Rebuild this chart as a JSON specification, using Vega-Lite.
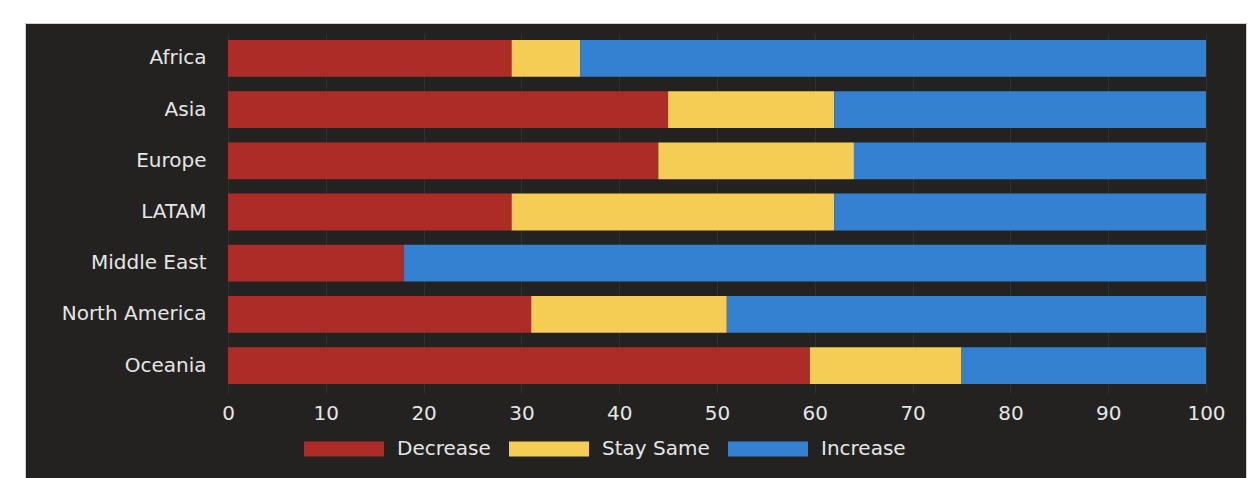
{
  "$schema": "https://vega.github.io/schema/vega-lite/v6.json",
  "width": 1221,
  "height": 455,
  "autosize": {"type": "none"},
  "padding": {"left": 25, "top": 23, "right": 2, "bottom": 0},
  "background": "#ffffff",
  "config": {
    "view": {"fill": "#232221", "stroke": "#cfcfcf", "strokeWidth": 1},
    "font": "DejaVu Sans"
  },
  "data": {
    "values": [
      {"region": "Africa", "response": "Decrease", "pct": 29},
      {"region": "Africa", "response": "Stay Same", "pct": 7},
      {"region": "Africa", "response": "Increase", "pct": 64},
      {"region": "Asia", "response": "Decrease", "pct": 45},
      {"region": "Asia", "response": "Stay Same", "pct": 17},
      {"region": "Asia", "response": "Increase", "pct": 38},
      {"region": "Europe", "response": "Decrease", "pct": 44},
      {"region": "Europe", "response": "Stay Same", "pct": 20},
      {"region": "Europe", "response": "Increase", "pct": 36},
      {"region": "LATAM", "response": "Decrease", "pct": 29},
      {"region": "LATAM", "response": "Stay Same", "pct": 33},
      {"region": "LATAM", "response": "Increase", "pct": 38},
      {"region": "Middle East", "response": "Decrease", "pct": 18},
      {"region": "Middle East", "response": "Stay Same", "pct": 0},
      {"region": "Middle East", "response": "Increase", "pct": 82},
      {"region": "North America", "response": "Decrease", "pct": 31},
      {"region": "North America", "response": "Stay Same", "pct": 20},
      {"region": "North America", "response": "Increase", "pct": 49},
      {"region": "Oceania", "response": "Decrease", "pct": 59.5},
      {"region": "Oceania", "response": "Stay Same", "pct": 15.5},
      {"region": "Oceania", "response": "Increase", "pct": 25}
    ]
  },
  "transform": [
    {"calculate": "indexof(['Decrease','Stay Same','Increase'], datum.response)", "as": "stackOrder"}
  ],
  "mark": {"type": "bar"},
  "encoding": {
    "y": {
      "field": "region",
      "type": "nominal",
      "sort": ["Africa", "Asia", "Europe", "LATAM", "Middle East", "North America", "Oceania"],
      "scale": {"range": [17, 361], "paddingInner": 0.28, "paddingOuter": 0},
      "axis": {
        "title": null,
        "orient": "left",
        "offset": -181,
        "labelPadding": 0,
        "ticks": false,
        "tickSize": 0,
        "domain": false,
        "grid": false,
        "labelFontSize": 20,
        "labelColor": "#e6e6e6",
        "labelFont": "DejaVu Sans"
      }
    },
    "x": {
      "field": "pct",
      "type": "quantitative",
      "stack": "zero",
      "scale": {"domain": [-20.757, 104.09], "nice": false, "zero": false},
      "axis": {
        "title": null,
        "orient": "bottom",
        "offset": -85,
        "values": [0, 10, 20, 30, 40, 50, 60, 70, 80, 90, 100],
        "labelPadding": 380,
        "labelBaseline": "middle",
        "ticks": true,
        "tickSize": -360,
        "tickColor": "#303030",
        "tickWidth": 1,
        "domain": false,
        "grid": false,
        "labelFontSize": 20,
        "labelColor": "#e6e6e6",
        "labelFont": "DejaVu Sans",
        "zindex": 0
      }
    },
    "color": {
      "field": "response",
      "type": "nominal",
      "scale": {
        "domain": ["Decrease", "Stay Same", "Increase"],
        "range": ["#ae2c27", "#f5cd55", "#3481d1"]
      },
      "legend": {
        "title": null,
        "orient": "none",
        "legendX": 279,
        "legendY": 386,
        "direction": "horizontal",
        "symbolType": "M-1,-0.1875L1,-0.1875L1,0.1875L-1,0.1875Z",
        "symbolSize": 6400,
        "symbolStrokeWidth": 0,
        "labelOffset": 13,
        "columnPadding": 18,
        "padding": 0,
        "labelFontSize": 20,
        "labelColor": "#e6e6e6",
        "labelFont": "DejaVu Sans"
      }
    },
    "order": {"field": "stackOrder", "type": "quantitative"}
  }
}
